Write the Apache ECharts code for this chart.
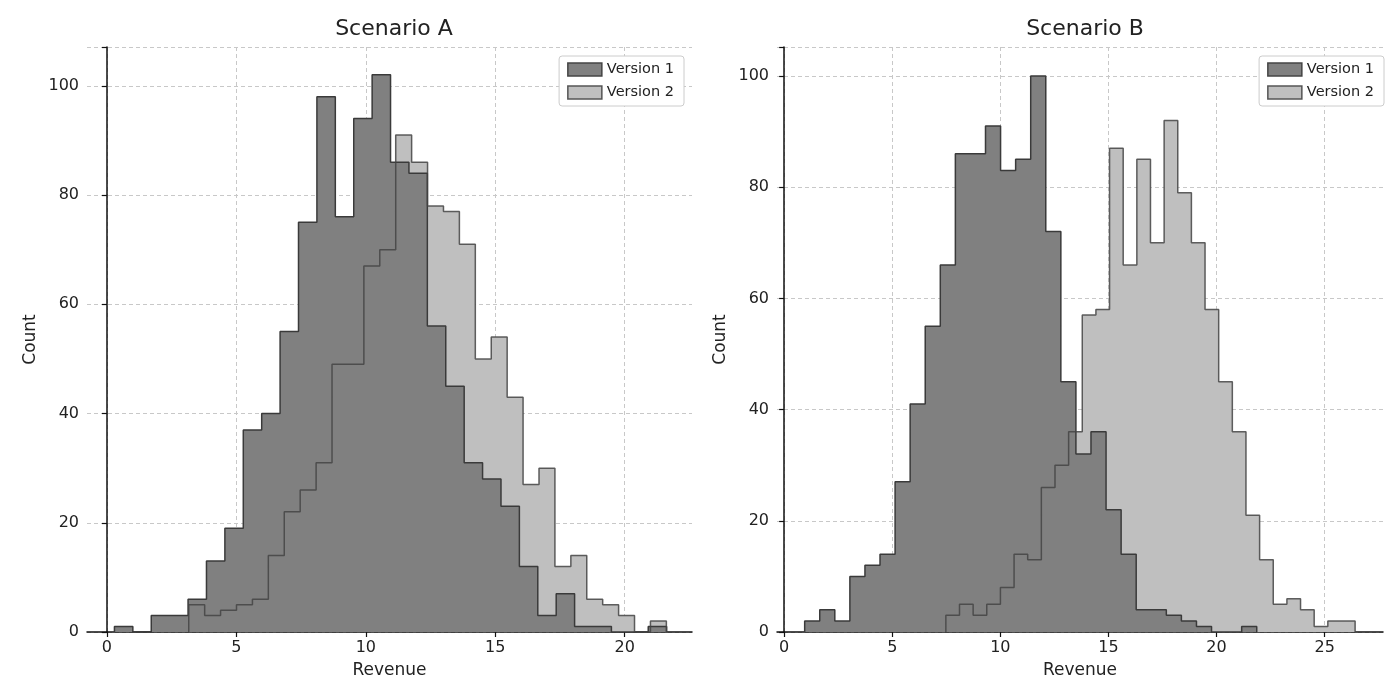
<!DOCTYPE html>
<html><head><meta charset="utf-8">
<script src="https://cdn.jsdelivr.net/npm/echarts@6/dist/echarts.min.js"></script>
<style>html,body{margin:0;padding:0;background:#fff}#c{width:1400px;height:700px}</style>
</head><body><div id="c"></div>
<script>
// Scenario A
const aV1Start = 0.29, aV1Width = 0.711;
const aV1Counts = [1,0,3,3,6,13,19,37,40,55,75,98,76,94,102,86,84,56,45,31,28,23,12,3,7,1,1,0,0,1];
const aV2Start = 3.16, aV2Width = 0.615;
const aV2Counts = [5,3,4,5,6,14,22,26,31,49,49,67,70,91,86,78,77,71,50,54,43,27,30,12,14,6,5,3,0,2];
// Scenario B
const bV1Start = 0.95, bV1Width = 0.697;
const bV1Counts = [2,4,2,10,12,14,27,41,55,66,86,86,91,83,85,100,72,45,32,36,22,14,4,4,3,2,1,0,0,1];
const bV2Start = 7.48, bV2Width = 0.631;
const bV2Counts = [3,5,3,5,8,14,13,26,30,36,57,58,87,66,85,70,92,79,70,58,45,36,21,13,5,6,4,1,2,2];
const xTicksA = [0,5,10,15,20];
const xTicksB = [0,5,10,15,20,25];
const titles = ['Scenario A','Scenario B'];
const names = ['Version 1','Version 2'];

function steps(start, w, counts){
  const pts = [[start,0]];
  counts.forEach((c,i)=>pts.push([start+i*w, c]));
  const end = start + counts.length*w;
  pts.push([end, counts[counts.length-1]]);
  pts.push([end, 0]);
  return pts;
}
const font = 'DejaVu Sans';
const C1 = '#808080', C2 = '#bfbfbf';
function xAxis(idx, min, max, ticks){
  return {type:'value', gridIndex:idx, min, max, name:'Revenue', nameLocation:'middle', nameGap:30,
    nameTextStyle:{fontFamily:font, fontSize:17, color:'#222'},
    axisLine:{show:true, onZero:false, lineStyle:{color:'#111', width:1.5}},
    axisTick:{show:true, customValues:ticks, length:5, lineStyle:{color:'#111', width:1.2}},
    axisLabel:{customValues:ticks, fontFamily:font, fontSize:16, color:'#222', margin:8},
    splitLine:{show:true, lineStyle:{color:'#c8c8c8', type:[4,3], width:1}}};
}
function yAxis(idx, max){
  return {type:'value', gridIndex:idx, min:0, max, interval:20, name:'Count', nameLocation:'middle', nameGap:48,
    nameTextStyle:{fontFamily:font, fontSize:17, color:'#222'},
    axisLine:{show:true, lineStyle:{color:'#111', width:1.5}},
    axisTick:{show:true, length:5, lineStyle:{color:'#111', width:1.2}},
    axisLabel:{fontFamily:font, fontSize:16, color:'#222', margin:8,
      formatter:v=> (v%20===0 && v<=100) ? String(v) : ''},
    splitLine:{show:true, lineStyle:{color:'#c8c8c8', type:[4,3], width:1}}};
}
function series(idx, start1,w1,c1,start2,w2,c2){
  return [
    {type:'line', name:names[1], xAxisIndex:idx, yAxisIndex:idx, step:'end', symbol:'none', z:2,
     data:steps(start2,w2,c2), color:C2, lineStyle:{width:0}, areaStyle:{color:C2, opacity:1}, itemStyle:{color:C2}},
    {type:'line', name:names[0], xAxisIndex:idx, yAxisIndex:idx, step:'end', symbol:'none', z:3,
     data:steps(start1,w1,c1), color:C1, lineStyle:{color:'#3a3a3a', width:1.5}, areaStyle:{color:C1, opacity:1}, itemStyle:{color:C1}},
    {type:'line', name:names[1], xAxisIndex:idx, yAxisIndex:idx, step:'end', symbol:'none', z:4,
     data:steps(start2,w2,c2), color:C2, lineStyle:{color:'#444', width:1.5, opacity:0.85}, itemStyle:{color:C2}}
  ];
}
function legend(right){
  return {orient:'vertical', right, top:56, icon:'rect', itemWidth:34, itemHeight:13, itemGap:8,
    backgroundColor:'#fff', borderColor:'#ccc', borderWidth:1, borderRadius:3, padding:[6,10,6,8],
    textStyle:{fontFamily:font, fontSize:14.5, color:'#222'},
    data:[{name:names[0], itemStyle:{color:C1, borderColor:'#444', borderWidth:1.5}},
          {name:names[1], itemStyle:{color:C2, borderColor:'#555', borderWidth:1.5}}]};
}
const chart = echarts.init(document.getElementById('c'));
chart.setOption({
  animation:false,
  title:[{text:titles[0], left:389, top:13, textAlign:'center', textStyle:{fontFamily:font, fontSize:22, fontWeight:'normal', color:'#222'}},
         {text:titles[1], left:1080, top:13, textAlign:'center', textStyle:{fontFamily:font, fontSize:22, fontWeight:'normal', color:'#222'}}],
  legend:[legend(716), legend(16)],
  grid:[{left:87, right:708, top:47, bottom:68}, {left:777, right:17, top:47, bottom:68}],
  xAxis:[xAxis(0,-0.77,22.6,xTicksA), xAxis(1,-0.33,27.7,xTicksB)],
  yAxis:[yAxis(0,107.1), yAxis(1,105.2)],
  series:[...series(0,aV1Start,aV1Width,aV1Counts,aV2Start,aV2Width,aV2Counts),
          ...series(1,bV1Start,bV1Width,bV1Counts,bV2Start,bV2Width,bV2Counts)]
});
</script></body></html>
